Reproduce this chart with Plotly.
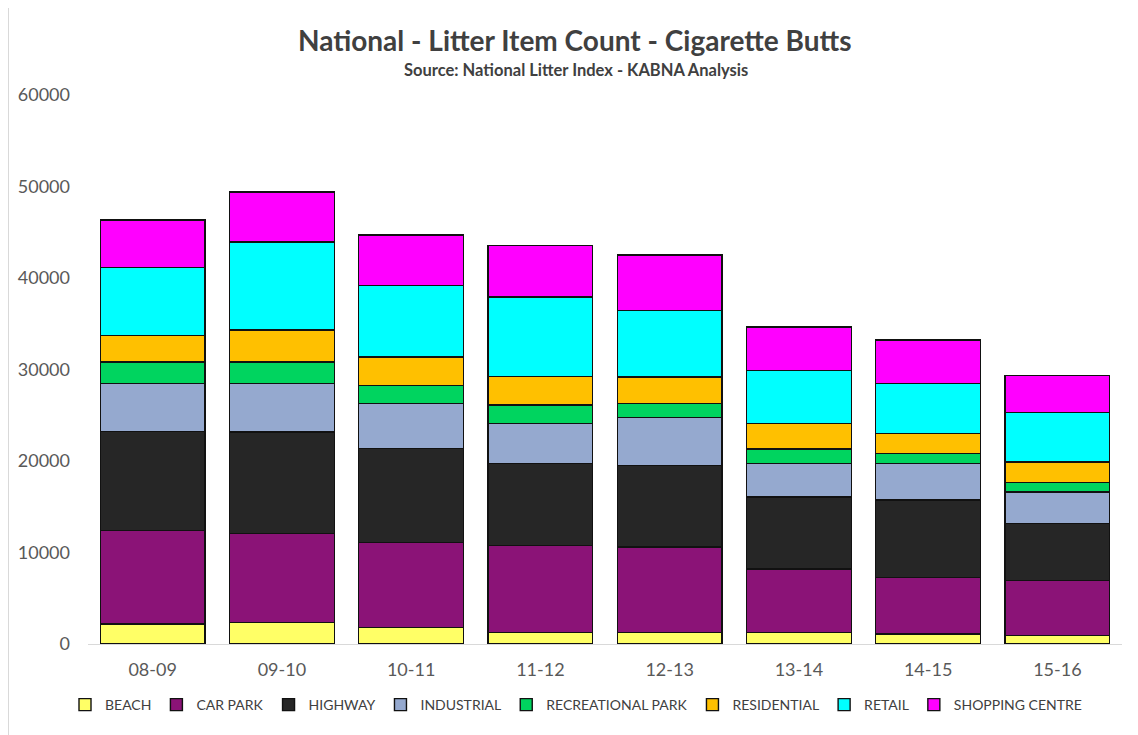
import plotly.graph_objects as go

years = ["08-09", "09-10", "10-11", "11-12", "12-13", "13-14", "14-15", "15-16"]

beach = [2190, 2330, 1830, 1280, 1280, 1240, 1090, 910]
car_park = [10190, 9770, 9290, 9510, 9320, 6960, 6200, 6050]
highway = [10820, 11070, 10220, 8910, 8930, 7870, 8450, 6190]
industrial = [5250, 5280, 4920, 4380, 5250, 3630, 3960, 3460]
recreational_park = [2370, 2370, 2010, 2040, 1480, 1610, 1100, 1060]
residential = [2920, 3500, 3100, 3090, 2920, 2770, 2180, 2220]
retail = [7430, 9610, 7830, 8710, 7290, 5830, 5510, 5430]
shopping_centre = [5170, 5470, 5500, 5650, 6040, 4740, 4730, 4050]

series = [
    ("BEACH", beach, "#FFFF66"),
    ("CAR PARK", car_park, "#8B1377"),
    ("HIGHWAY", highway, "#262626"),
    ("INDUSTRIAL", industrial, "#95A9CF"),
    ("RECREATIONAL PARK", recreational_park, "#00D45F"),
    ("RESIDENTIAL", residential, "#FFC000"),
    ("RETAIL", retail, "#00FFFF"),
    ("SHOPPING CENTRE", shopping_centre, "#FF00FF"),
]

title_text = "National - Litter Item Count - Cigarette Butts"
subtitle_text = "Source: National Litter Index - KABNA Analysis"

font_family = "Lato, Open Sans, sans-serif"

fig = go.Figure()
for name, vals, color in series:
    fig.add_trace(go.Bar(
        x=years, y=vals, name=name,
        marker=dict(color=color, line=dict(color="#111111", width=1.4)),
    ))

# page shows the figure offset by the 8px body margin
W, H = 1130, 727
ml, mr, mt, mb = 80, 16, 87, 91
pw, ph = W - ml - mr, H - mt - mb


def px_x(x):
    return (x - ml) / pw


def px_y(y):
    return (H - mb - y) / ph


fig.update_layout(
    width=W, height=H,
    barmode="stack",
    bargap=0.19,
    plot_bgcolor="white",
    paper_bgcolor="white",
    margin=dict(l=ml, r=mr, t=mt, b=mb, autoexpand=False),
    font=dict(family=font_family, color="#595959"),
    xaxis=dict(
        type="category",
        showgrid=False, showline=True, linecolor="#D9D9D9", linewidth=1,
        ticks="", tickfont=dict(size=18, color="#595959"),
        ticklabelstandoff=9,
    ),
    yaxis=dict(
        range=[0, 60000], dtick=10000, showgrid=False, zeroline=False,
        showline=False, ticks="", tickfont=dict(size=18, color="#595959"),
        ticklabelstandoff=17, tickformat="d",
    ),
    legend=dict(
        orientation="h", x=px_x(57), xanchor="left",
        y=px_y(697), yanchor="middle",
        font=dict(size=14, color="#404040", family=font_family),
        traceorder="normal", itemwidth=30,
    ),
    annotations=[
        dict(text="<b>" + title_text + "</b>", xref="paper", yref="paper",
             x=px_x(567), y=px_y(32), xanchor="center", yanchor="middle",
             showarrow=False, font=dict(size=28, color="#404040", family=font_family)),
        dict(text="<b>" + subtitle_text + "</b>", xref="paper", yref="paper",
             x=px_x(568), y=px_y(62), xanchor="center", yanchor="middle",
             showarrow=False, font=dict(size=16.5, color="#404040", family=font_family)),
    ],
    shapes=[dict(
        type="rect", xref="paper", yref="paper",
        x0=px_x(0.5), x1=px_x(W + 20),
        y0=px_y(H + 20), y1=px_y(-2),
        line=dict(color="#D9D9D9", width=1), fillcolor="rgba(0,0,0,0)",
        layer="below",
    )],
)

fig.write_html("out.html")
